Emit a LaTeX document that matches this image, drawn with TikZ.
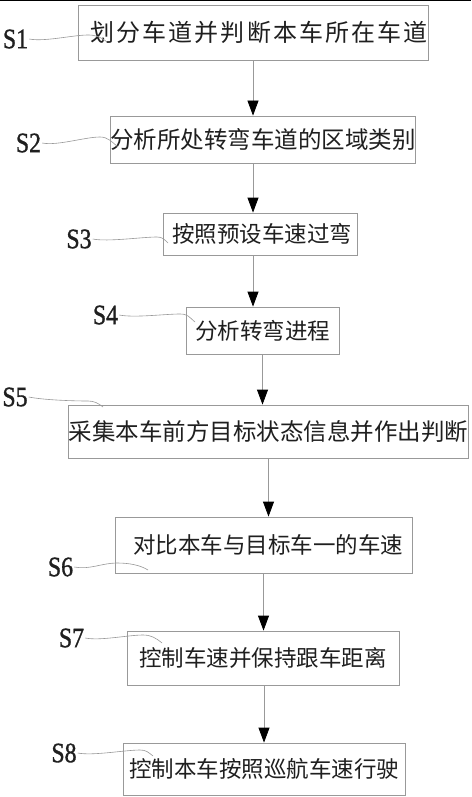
\documentclass[tikz,border=0pt]{standalone}
\usepackage{fontspec}
\setmainfont{Liberation Serif}
\newfontfamily\lblfont[FakeBold=1.2]{Liberation Serif}
\newfontfamily\cjk{Noto Sans CJK SC}
\newfontfamily\cjkwide[LetterSpace=9]{Noto Sans CJK SC}
\usetikzlibrary{arrows.meta}
\definecolor{boxgray}{gray}{0.6}
\definecolor{txt}{gray}{0.12}
\begin{document}
\begin{tikzpicture}[x=1pt,y=-1pt,
  box/.style={draw=boxgray, line width=0.8pt, inner sep=0pt, text=txt,
    font=\cjk\fontsize{22.5}{22.5}\selectfont},
  lbl/.style={font=\lblfont\fontsize{28}{28}\selectfont, text=txt, inner sep=1pt},
  lead/.style={draw=boxgray, line width=0.6pt},
  arr/.style={draw=boxgray, line width=0.8pt, -{Triangle[length=15pt,width=11pt,color=black]}}]
\useasboundingbox (0,0) rectangle (471,797);
\fill[white] (0,0) rectangle (471,797);
\draw[black, line width=1.5pt] (0,0.75) -- (471,0.75);

% boxes
\node[box, minimum width=322pt, minimum height=55pt] (b1) at (253,32.5)
  {\hspace*{12pt}\raisebox{-4pt}{\cjkwide\fontsize{24}{24}\selectfont 划分车道并判断本车所在车道}};
\node[box, minimum width=300pt, minimum height=47pt, font=\cjk\fontsize{23.5}{23.5}\selectfont] (b2) at (263,139.5)
  {\raisebox{-3pt}{分析所处转弯车道的区域类别}};
\node[box, minimum width=194pt, minimum height=42pt] (b3) at (260,234)
  {\hspace*{4pt}按照预设车速过弯};
\node[box, minimum width=153pt, minimum height=47pt] (b4) at (262.5,330.5)
  {\raisebox{-2pt}{分析转弯进程}};
\node[box, minimum width=399pt, minimum height=53pt, font=\cjk\fontsize{23.5}{23.5}\selectfont] (b5) at (268.5,431.5)
  {采集本车前方目标状态信息并作出判断};
\node[box, minimum width=297pt, minimum height=56pt] (b6) at (263.5,545)
  {\hspace*{9pt}对比本车与目标车一的车速};
\node[box, minimum width=272pt, minimum height=54pt] (b7) at (263,658)
  {控制车速并保持跟车距离};
\node[box, minimum width=282pt, minimum height=52pt] (b8) at (264,769)
  {控制本车按照巡航车速行驶};

% labels
\node[lbl] (s1) at (15.5,39) {\scalebox{0.85}[1]{S1}};
\node[lbl] (s2) at (28.5,143) {\scalebox{0.85}[1]{S2}};
\node[lbl] (s3) at (79,239) {\scalebox{0.85}[1]{S3}};
\node[lbl] (s4) at (105.5,315) {\scalebox{0.85}[1]{S4}};
\node[lbl] (s5) at (15,397) {\scalebox{0.85}[1]{S5}};
\node[lbl] (s6) at (60.5,567) {\scalebox{0.85}[1]{S6}};
\node[lbl] (s7) at (71.5,638) {\scalebox{0.85}[1]{S7}};
\node[lbl] (s8) at (64,753) {\scalebox{0.85}[1]{S8}};

% leader ends
\coordinate (e1) at (107,42);
\coordinate (e2) at (118,147);
\coordinate (e3) at (168,243);
\coordinate (e4) at (195,322);
\coordinate (e5) at (103,407);
\coordinate (e6) at (148,570);
\coordinate (e7) at (162,643);
\coordinate (e8) at (153,756);

\draw[lead] (s1.east) .. controls +(15,3) and +(-15,0) .. (88,35) .. controls +(8,0) and +(-6,-5) .. (e1);
\draw[lead] (s2.east) .. controls +(15,3) and +(-15,0) .. (100,137) .. controls +(8,0) and +(-6,-5) .. (e2);
\draw[lead] (s3.east) .. controls +(15,3) and +(-15,0) .. (157,237) .. controls +(5,0) and +(-4,-4) .. (e3);
\draw[lead] (s4.east) .. controls +(15,3) and +(-15,0) .. (180,314) .. controls +(8,0) and +(-6,-5) .. (e4);
\draw[lead] (s5.east) .. controls +(15,3) and +(-15,0) .. (88,401) .. controls +(6,0) and +(-5,-4) .. (e5);
\draw[lead] (s6.east) .. controls +(15,3) and +(-15,0) .. (117,563) .. controls +(12,0) and +(-8,-5) .. (e6);
\draw[lead] (s7.east) .. controls +(15,3) and +(-15,0) .. (143,635) .. controls +(8,0) and +(-6,-5) .. (e7);
\draw[lead] (s8.east) .. controls +(15,3) and +(-15,0) .. (140,750) .. controls +(6,0) and +(-5,-4) .. (e8);

% arrows
\draw[arr] (b1.south) -- (b1.south |- b2.north);
\draw[arr] ([xshift=-10pt]b2.south) -- ([xshift=-10pt]b2.south |- b3.north);
\draw[arr] ([xshift=-7pt]b3.south) -- ([xshift=-7pt]b3.south |- b4.north);
\draw[arr] (b4.south) -- (b4.south |- b5.north);
\draw[arr] (b5.south) -- (b5.south |- b6.north);
\draw[arr] (b6.south) -- (b6.south |- b7.north);
\draw[arr] ([xshift=1pt]b7.south) -- ([xshift=1pt]b7.south |- b8.north);
\end{tikzpicture}
\end{document}
